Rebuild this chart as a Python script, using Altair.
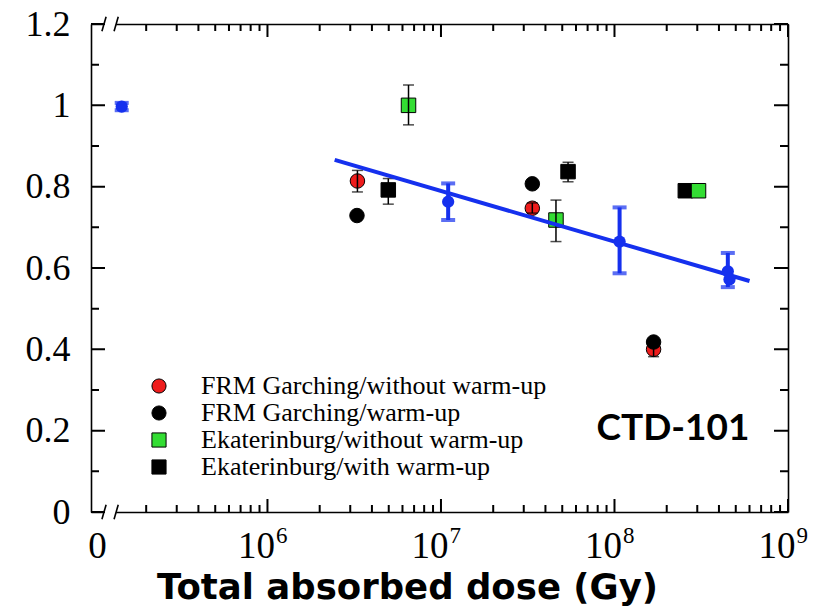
import altair as alt
import numpy as np
import pandas as pd

# ---------------- data ----------------
SERIES = ["FRM Garching/without warm-up", "FRM Garching/warm-up",
          "Ekaterinburg/without warm-up", "Ekaterinburg/with warm-up"]
COLORS = ["#ee1c1c", "#000000", "#33dd33", "#000000"]
SHAPES = ["circle", "circle", "square", "square"]

# FRM Garching, without warm-up (red circles)
frm_nw_dose = [3.3e6, 3.36e7, 1.68e8]
frm_nw_val = [0.814, 0.747, 0.400]
frm_nw_lo = [0.787, 0.735, 0.382]
frm_nw_hi = [0.840, 0.760, 0.415]

# FRM Garching, warm-up (black circles)
frm_w_dose = [3.28e6, 3.36e7, 1.68e8]
frm_w_val = [0.729, 0.807, 0.418]

# Ekaterinburg, with warm-up (black squares)
ek_w_dose = [4.97e6, 5.4e7, 2.56e8]
ek_w_val = [0.792, 0.837, 0.790]
ek_w_lo = [0.757, 0.812, 0.776]
ek_w_hi = [0.820, 0.860, 0.804]

# Ekaterinburg, without warm-up (green squares)
ek_nw_dose = [6.5e6, 4.6e7, 3.05e8]
ek_nw_val = [1.000, 0.718, 0.790]
ek_nw_lo = [0.952, 0.665, None]
ek_nw_hi = [1.050, 0.767, None]

# blue measurements (dose 0 = unirradiated reference)
blue_dose = [0, 1.1e7, 1.07e8, 4.5e8, 4.6e8]
blue_val = [0.997, 0.763, 0.665, 0.592, 0.572]
blue_lo = [0.988, 0.718, 0.587, 0.553, None]
blue_hi = [1.006, 0.808, 0.749, 0.637, None]

# linear fit in log(dose)
fit_dose = [2.44e6, 6.0e8]
fit_val = [0.866, 0.568]

# ---------------- layout constants ----------------
W, H = 697, 488
X_DOMAIN = [4.983, 9.0]      # log10(dose)
Y_DOMAIN = [0.0, 1.2]
ZERO_POS = 5.16              # where dose = 0 is drawn on the broken axis
ZERO_LABEL_POS = 5.03
BREAK_POS = [5.058, 5.128]
BLUE = "#1530ee"
SERIF = "Liberation Serif"
SANS = "Lato"
TITLE_FONT = "DejaVu Sans"

# pixel -> data unit conversion for tick lengths
PX_X = (X_DOMAIN[1] - X_DOMAIN[0]) / W
PX_Y = (Y_DOMAIN[1] - Y_DOMAIN[0]) / H


def lx(d):
    return ZERO_POS if d == 0 else float(np.log10(d))


def frame(dose, val, lo=None, hi=None, series=None):
    n = len(dose)
    lo = lo if lo is not None else [None] * n
    hi = hi if hi is not None else [None] * n
    return pd.DataFrame({
        "lx": [lx(d) for d in dose], "val": val, "lo": lo, "hi": hi,
        "series": [series] * n,
    })


pts = pd.concat([
    frame(frm_nw_dose, frm_nw_val, frm_nw_lo, frm_nw_hi, SERIES[0]),
    frame(frm_w_dose, frm_w_val, None, None, SERIES[1]),
    frame(ek_w_dose, ek_w_val, ek_w_lo, ek_w_hi, SERIES[3]),
    frame(ek_nw_dose, ek_nw_val, ek_nw_lo, ek_nw_hi, SERIES[2]),
], ignore_index=True)
errs = pts.dropna(subset=["lo", "hi"]).copy()
caps = pd.concat([errs.assign(cap=errs["lo"]), errs.assign(cap=errs["hi"])], ignore_index=True)

blue = frame(blue_dose, blue_val, blue_lo, blue_hi, "blue")
blue_err = blue.dropna(subset=["lo", "hi"]).copy()
blue_caps = pd.concat([blue_err.assign(cap=blue_err["lo"]),
                       blue_err.assign(cap=blue_err["hi"])], ignore_index=True)
fit = frame(fit_dose, fit_val)

xs = alt.Scale(domain=X_DOMAIN, nice=False, zero=False)
ys = alt.Scale(domain=Y_DOMAIN, nice=False, zero=False)

major_x = [6, 7, 8, 9]
minor_x = [float(np.log10(k * 10 ** n)) for n in range(5, 9) for k in range(2, 10)]
major_y = [0, 0.2, 0.4, 0.6, 0.8, 1.0, 1.2]
minor_y = [0.1, 0.3, 0.5, 0.7, 0.9, 1.1]

DOM = dict(domainColor="black", domainWidth=1.6)

# axes: labels, title and the frame lines
ax_x_lab = alt.Axis(
    orient="bottom", values=[ZERO_LABEL_POS] + major_x,
    labelExpr="datum.value < 5.5 ? '0' : '10'", ticks=False, grid=False,
    labelFont=SERIF, labelFontSize=37, labelColor="black", labelAlign="right",
    labelOffset=7, labelPadding=16, labelFlush=False, labelOverlap=False,
    title="Total absorbed dose (Gy)", titleFont=TITLE_FONT, titleFontWeight="bold",
    titleFontSize=35.5, titleColor="black", titleX=316, titleY=86,
    titleAlign="center", titleBaseline="alphabetic", **DOM)
ax_x_exp = alt.Axis(
    orient="bottom", values=major_x, labelExpr="'' + datum.value",
    ticks=False, domain=False, grid=False, title=None,
    labelFont=SERIF, labelFontSize=23, labelColor="black", labelAlign="left",
    labelOffset=8, labelPadding=12, labelFlush=False, labelOverlap=False)
ax_y_lab = alt.Axis(
    orient="left", values=major_y, format="~f", ticks=False, grid=False,
    labelFont=SERIF, labelFontSize=36, labelColor="black", labelPadding=21,
    labelOverlap=False, labelFlush=False, title=None, **DOM)
ax_x_top = alt.Axis(orient="top", ticks=False, labels=False, grid=False,
                    title=None, **DOM)
ax_y_right = alt.Axis(orient="right", ticks=False, labels=False, grid=False,
                      title=None, **DOM)


def X(field="lx", axis=None):
    return alt.X(f"{field}:Q", scale=xs, axis=axis)


def Y(field="val", axis=None):
    return alt.Y(f"{field}:Q", scale=ys, axis=axis)


# inward tick marks on all four sides, as short segments (x1,y1)-(x2,y2)
seg = {"tx1": [], "tx2": [], "ty1": [], "ty2": []}
for values, length in ((major_x, 13), (minor_x, 7)):
    for v in values:
        for edge, inward in ((Y_DOMAIN[0], 1), (Y_DOMAIN[1], -1)):
            seg["tx1"].append(float(v))
            seg["tx2"].append(float(v) + 1e-6)
            seg["ty1"].append(edge)
            seg["ty2"].append(edge + inward * length * PX_Y)
for values, length in ((major_y, 14), (minor_y, 8)):
    for v in values:
        for edge, inward in ((X_DOMAIN[0], 1), (X_DOMAIN[1], -1)):
            seg["tx1"].append(edge)
            seg["tx2"].append(edge + inward * length * PX_X)
            seg["ty1"].append(float(v))
            seg["ty2"].append(float(v) + 1e-6)
ticks_df = pd.DataFrame(seg)
frame_ticks = alt.Chart(ticks_df).mark_rule(color="#000000", strokeWidth=2,
                                            opacity=1).encode(
    x=X("tx1"), x2="tx2:Q", y=Y("ty1"), y2="ty2:Q")

legend = alt.Legend(
    orient="none", legendX=55, legendY=349, title=None, padding=0,
    labelFont=SERIF, labelFontSize=26, labelColor="black", labelLimit=600,
    labelOffset=29, symbolSize=200, symbolStrokeColor="black",
    symbolStrokeWidth=1, rowPadding=1)

points = alt.Chart(pts).mark_point(filled=True, stroke="black", strokeWidth=1,
                                   opacity=1, size=210).encode(
    x=X(axis=ax_x_lab), y=Y(axis=ax_y_lab),
    color=alt.Color("series:N", scale=alt.Scale(domain=SERIES, range=COLORS), legend=legend),
    shape=alt.Shape("series:N", scale=alt.Scale(domain=SERIES, range=SHAPES), legend=legend),
)

err_rules = alt.Chart(errs).mark_rule(color="black", strokeWidth=1.5).encode(
    x=X(axis=ax_x_exp), y=Y("lo", axis=ax_y_right), y2="hi:Q")

err_caps = alt.Chart(caps).mark_tick(color="black", orient="horizontal",
                                     size=11, thickness=1.5).encode(
    x=X(axis=ax_x_top), y=Y("cap"))

fit_line = alt.Chart(fit).mark_line(color=BLUE, strokeWidth=4).encode(
    x=X(), y=Y())

blue_rules = alt.Chart(blue_err).mark_rule(color=BLUE, strokeWidth=4).encode(
    x=X(), y=Y("lo"), y2="hi:Q")

blue_cap_marks = alt.Chart(blue_caps).mark_tick(color=BLUE, orient="horizontal",
                                                size=14, thickness=4).encode(
    x=X(), y=Y("cap"))

blue_points = alt.Chart(blue).mark_point(filled=True, color=BLUE, opacity=1,
                                         size=150, shape="circle").encode(
    x=X(), y=Y())

# axis break on the top and bottom edges
brk = pd.DataFrame({"x1": [BREAK_POS[0]] * 2, "x2": [BREAK_POS[1]] * 2, "yv": Y_DOMAIN})
break_gap = alt.Chart(brk).mark_rule(color="white", strokeWidth=5).encode(
    x=X("x1"), x2="x2:Q", y=Y("yv"))
sl = pd.DataFrame({
    "xa": [p - 0.012 for p in BREAK_POS for _ in (0, 1)],
    "xb": [p + 0.012 for p in BREAK_POS for _ in (0, 1)],
    "ya": [yv - 0.018 for _ in BREAK_POS for yv in Y_DOMAIN],
    "yb": [yv + 0.018 for _ in BREAK_POS for yv in Y_DOMAIN],
})
break_slash = alt.Chart(sl).mark_rule(color="black", strokeWidth=1.6).encode(
    x=X("xa"), x2="xb:Q", y=Y("ya"), y2="yb:Q")

label = pd.DataFrame({"lx": [8.337], "val": [0.177], "t": ["CTD-101"]})
ctd = alt.Chart(label).mark_text(font=SANS, fontWeight="bold", fontSize=37,
                                 color="black", align="center",
                                 baseline="alphabetic").encode(
    x=X(), y=Y(), text="t:N")

chart = alt.layer(
    points, err_rules, err_caps, fit_line, blue_rules,
    blue_cap_marks, blue_points, break_gap, break_slash, ctd, frame_ticks,
).resolve_axis(x="independent", y="independent").properties(
    width=W, height=H,
    autosize=alt.AutoSizeParams(type="none"),
    padding={"left": 91, "top": 24, "right": 28, "bottom": 103},
    background="white",
).configure_view(stroke=None)

chart.save("out.html", embed_options={"renderer": "svg", "actions": False})
